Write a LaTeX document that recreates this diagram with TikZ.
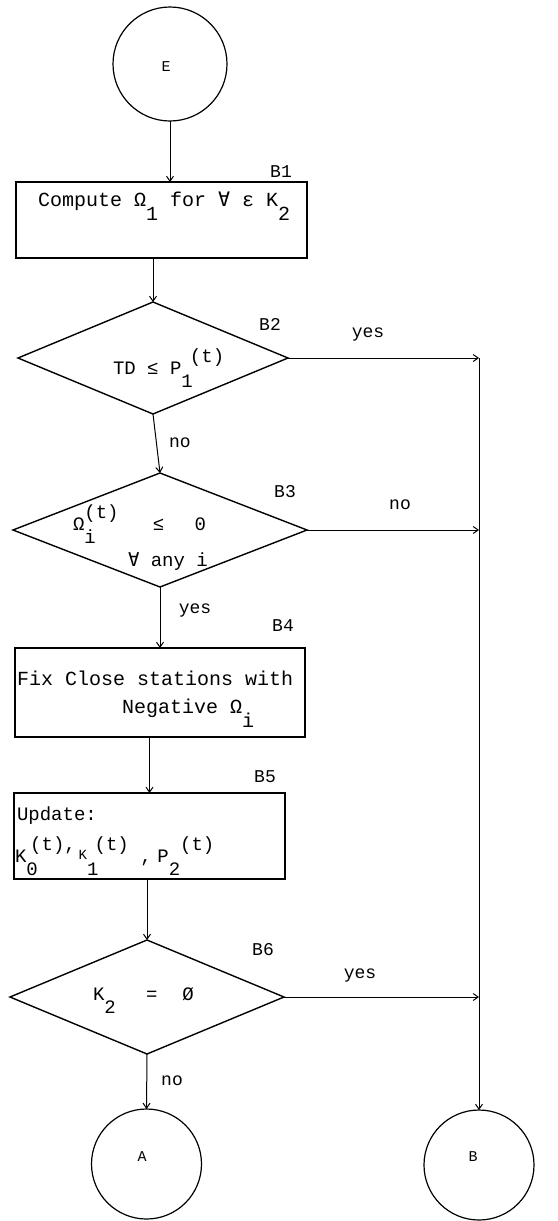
\documentclass[tikz,border=0pt]{standalone}
\usepackage{fontspec}
\setmainfont{Liberation Mono}
\newfontfamily\symfont{DejaVu Sans Mono}
\usetikzlibrary{shapes.geometric,arrows.meta}
\newcommand{\dn}[1]{\raisebox{-0.7em}{#1}}
\newcommand{\upr}[1]{\raisebox{0.6em}{#1}}
\newcommand{\fa}{{\symfont ∀}}
\begin{document}
\begin{tikzpicture}[x=1pt,y=-1pt,
  every node/.style={inner sep=0pt, outer sep=0pt},
  term/.style={draw, circle, line width=1.2pt, minimum size=#1},
  procbox/.style={draw, rectangle, line width=1.2pt},
  decision/.style={draw, diamond, line width=1.4pt},
  btxt/.style={font=\fontsize{20}{24}\selectfont, anchor=base west},
  dtxt/.style={font=\fontsize{19}{23}\selectfont, anchor=base west},
  tag/.style={font=\fontsize{18}{20}\selectfont},
  letter/.style={font=\fontsize{15}{17}\selectfont},
  flow/.style={line width=1pt, -{Straight Barb[length=5pt,width=7pt]}}
]
\useasboundingbox (0,0) rectangle (557,1221);

% terminals
\node[term=114pt] (E) at (170,64) {};
\node[letter] (Et) at (166,67) {E};
\node[term=110pt] (A) at (146.5,1164) {};
\node[letter] (At) at (142,1157) {A};
\node[term=110pt] (B) at (479,1165) {};
\node[letter] (Bt) at (473,1157) {B};

% B1
\node[procbox, minimum width=291pt, minimum height=76pt] (B1) at (161.5,220) {};
\node[btxt] (B1t) at (38,206) {Compute Ω\dn{1} for \fa{} ε K\dn{2}};
\node[tag] (L1) at (281,172) {B1};

% B2
\node[decision, minimum width=270pt, minimum height=112pt] (B2) at (153,358) {};
\node[dtxt] (B2t) at (113,374) {TD ≤ P\rlap{\dn{1}}\hspace{0.45em}\upr{(t)}};
\node[tag] (L2) at (270,324) {B2};
\node[tag] (y2) at (368,335) {yes};
\node[tag] (n2) at (180,443) {no};

% B3
\node[decision, minimum width=294pt, minimum height=114pt] (B3) at (160,530) {};
\node[dtxt] (B3a) at (73,530) {Ω\rlap{\dn{i}}\upr{(t)}\hspace{1.8em}≤\hspace{1.6em}0};
\node[dtxt] (B3b) at (128,566) {\fa{} any i};
\node[tag] (L3) at (285,492) {B3};
\node[tag] (n3) at (400,505) {no};
\node[tag] (y3) at (195,611) {yes};

% B4
\node[procbox, minimum width=290pt, minimum height=89pt] (B4) at (160,692.5) {};
\node[btxt] (B4a) at (17,685) {Fix Close stations with};
\node[btxt] (B4b) at (122,713) {Negative Ω\dn{i}};
\node[tag] (L4) at (283,626) {B4};

% B5
\node[procbox, minimum width=271pt, minimum height=86pt] (B5) at (149.5,836) {};
\node[dtxt] (B5a) at (17,820) {Update:};
\node[dtxt] (B5b) at (15,862) {K\rlap{\dn{0}}\hspace{0.2em}\upr{(t),}\hspace{0.15em}\raisebox{0.15em}{\fontsize{14}{14}\selectfont K}\rlap{\dn{1}}\hspace{0.4em}\upr{(t)}\hspace{0.6em},\hspace{0.3em}P\rlap{\dn{2}}\hspace{0.6em}\upr{(t)}};
\node[tag] (L5) at (265,777) {B5};

% B6
\node[decision, minimum width=274pt, minimum height=114pt] (B6) at (147,997) {};
\node[dtxt] (B6t) at (93,1000) {K\dn{2}\hspace{1.6em}=\hspace{1.3em}Ø};
\node[tag] (L6) at (263,950) {B6};
\node[tag] (y6) at (360,976) {yes};
\node[tag] (n6) at (172,1081) {no};

% connectors
\coordinate (j1) at (B2.east -| B.north);
\draw[flow] (E) -- (E |- B1.north);
\draw[flow] (B2.north |- B1.south) -- (B2.north);
\draw[flow] (B2.south) -- (B3.north);
\draw[flow] (B3.south) -- (B4.north);
\draw[flow] (B5.north |- B4.south) -- (B5.north);
\draw[flow] (B6.north |- B5.south) -- (B6.north);
\draw[flow] (B6.south) -- (A.north);
\draw[flow] (B2.east) -- (j1);
\draw[flow] (j1) -- (B);
\draw[flow] (B3.east) -- (B3.east -| j1);
\draw[flow] (B6.east) -- (B6.east -| j1);
\end{tikzpicture}
\end{document}
